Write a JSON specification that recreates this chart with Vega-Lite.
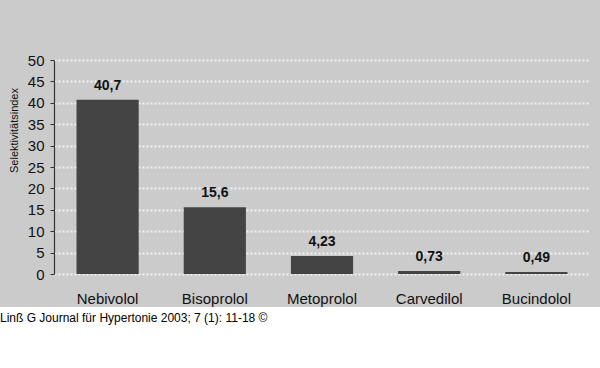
{
  "$schema": "https://vega.github.io/schema/vega-lite/v6.json",
  "width": 600,
  "height": 307,
  "autosize": {"type": "none"},
  "padding": {"left": 0, "top": 0, "right": 0, "bottom": 61},
  "background": "#ffffff",
  "config": {
    "view": {"fill": "#cbcbcb", "stroke": null},
    "font": "Liberation Sans"
  },
  "title": {
    "text": "Linß G Journal für Hypertonie 2003; 7 (1): 11-18 ©",
    "orient": "bottom",
    "anchor": "start",
    "frame": "group",
    "fontSize": 12,
    "fontWeight": "normal",
    "color": "#000000",
    "offset": 6
  },
  "data": {
    "values": [
      {"drug": "Nebivolol", "value": 40.7, "label": "40,7"},
      {"drug": "Bisoprolol", "value": 15.6, "label": "15,6"},
      {"drug": "Metoprolol", "value": 4.23, "label": "4,23"},
      {"drug": "Carvedilol", "value": 0.73, "label": "0,73"},
      {"drug": "Bucindolol", "value": 0.49, "label": "0,49"}
    ]
  },
  "encoding": {
    "x": {
      "field": "drug",
      "type": "nominal",
      "sort": null,
      "scale": {"range": [54, 590], "paddingInner": 0.42, "paddingOuter": 0.21},
      "axis": {
        "title": null,
        "orient": "bottom",
        "offset": -33,
        "domain": false,
        "ticks": false,
        "labelAngle": 0,
        "labelPadding": 17,
        "labelFontSize": 15,
        "labelColor": "#111111"
      }
    },
    "y": {
      "field": "value",
      "type": "quantitative",
      "scale": {"domain": [0, 50], "range": [274, 60], "nice": false, "zero": true},
      "axis": {
        "title": "Selektivitätsindex",
        "offset": -54,
        "values": [0, 5, 10, 15, 20, 25, 30, 35, 40, 45, 50],
        "grid": true,
        "gridColor": "#f2f2f2",
        "gridDash": [2, 2],
        "gridWidth": 1.8,
        "domainColor": "#333333",
        "domainWidth": 1.2,
        "tickColor": "#333333",
        "tickSize": 4,
        "labelFontSize": 15,
        "labelPadding": 6,
        "labelColor": "#111111",
        "titleFontSize": 11,
        "titleFontWeight": "normal",
        "titleColor": "#111111",
        "titleX": -35,
        "titleY": 130
      }
    }
  },
  "layer": [
    {"mark": {"type": "bar", "color": "#444444"}},
    {
      "mark": {"type": "text", "fontWeight": "bold", "fontSize": 14, "baseline": "alphabetic", "dy": -10, "color": "#111111"},
      "encoding": {"text": {"field": "label"}}
    }
  ]
}
